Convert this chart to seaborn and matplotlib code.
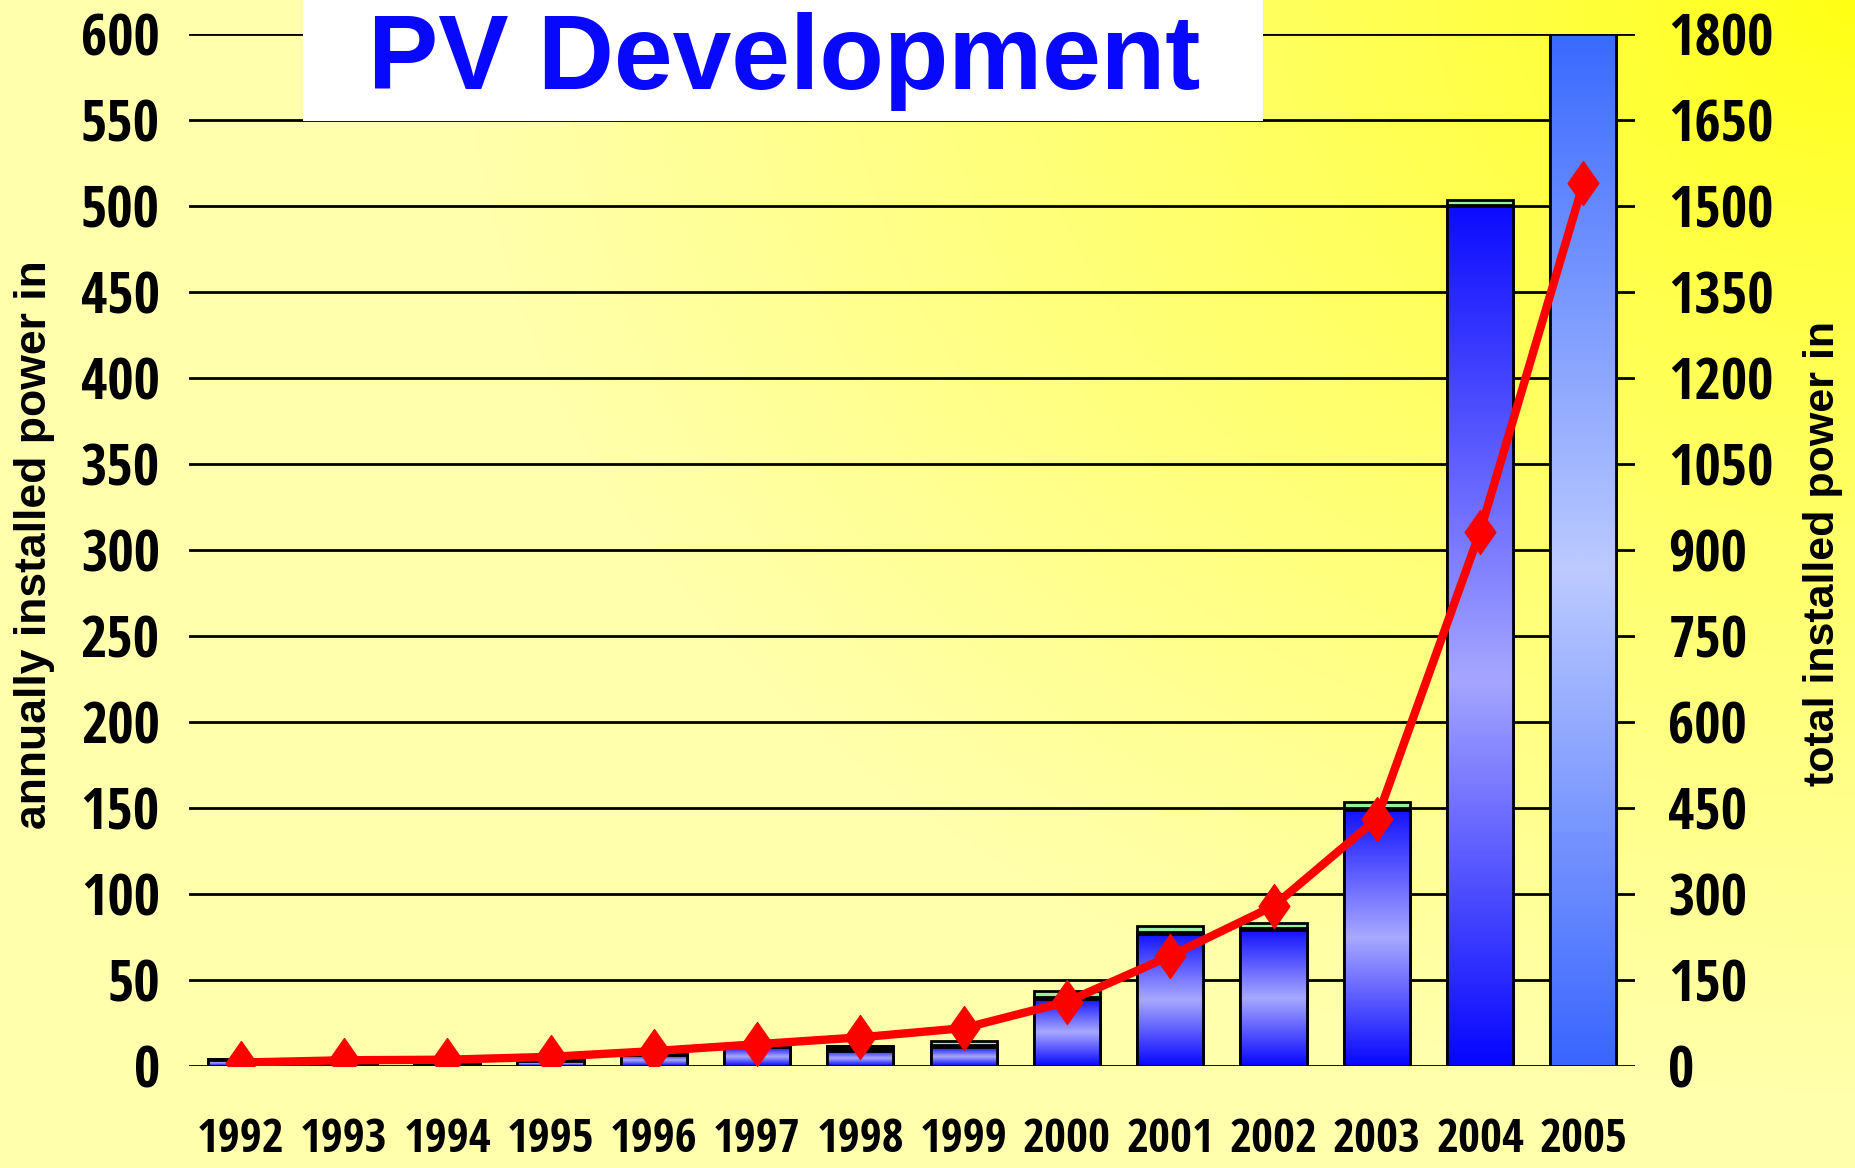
import numpy as np
import pandas as pd
import matplotlib
matplotlib.use("Agg")
import matplotlib.pyplot as plt
import seaborn as sns
from matplotlib.colors import LinearSegmentedColormap
from matplotlib.patches import Rectangle

# ---------------- data ----------------
years = ["1992", "1993", "1994", "1995", "1996", "1997", "1998",
         "1999", "2000", "2001", "2002", "2003", "2004", "2005"]
annual_main = [3.5, 1.0, 1.0, 3.0, 6.5, 11, 9, 11, 39, 77, 79, 149, 500, 600]
annual_other = [0.5, 0.3, 0.3, 0.5, 0.5, 0.5, 2.5, 1, 1, 1, 1, 1, 0.5, 0]
annual_green = [0, 0, 0, 0, 0, 0, 0, 2.5, 3.5, 3.5, 3, 3.5, 3, 0]
total_installed = [6, 10, 11, 16, 26, 38, 50, 66, 112, 192, 279, 431, 932, 1540]
left_ticks = list(range(0, 601, 50))
right_ticks = list(range(0, 1801, 150))
title_text = "PV Development"
left_label = "annually installed power in"
right_label = "total installed power in"

df = pd.DataFrame({"year": years, "main": annual_main,
                   "other": annual_other, "green": annual_green})
df["lvl1"] = df["main"] + df["other"]
df["lvl2"] = df["lvl1"] + df["green"]

# ---------------- style ----------------
sns.set_theme(style="white")
narrow = ["Open Sans Condensed", "Liberation Sans", "DejaVu Sans"]
wide = ["Liberation Sans", "DejaVu Sans"]
plt.rcParams["font.family"] = narrow
plt.rcParams["font.weight"] = "bold"
plt.rcParams["text.color"] = "black"
plt.rcParams["xtick.color"] = "black"
plt.rcParams["ytick.color"] = "black"

W, H = 1856, 1168
fig = plt.figure(figsize=(W / 100, H / 100), dpi=100)

# background gradient (bright yellow at top-right, pale yellow elsewhere)
bg = fig.add_axes([0, 0, 1, 1], zorder=-10)
gy, gx = np.mgrid[0:1:300j, 0:1:480j]
d = np.sqrt((1 - gx) ** 2 + (gy * 0.8) ** 2)
t = np.clip(d / 0.75, 0, 1) ** 0.8
img = np.ones((300, 480, 3))
img[..., 2] = (16 + (172 - 16) * t) / 255.0
bg.imshow(img, extent=[0, 1, 0, 1], aspect="auto", origin="upper")
bg.set_xlim(0, 1); bg.set_ylim(0, 1)
bg.axis("off")

ax = fig.add_axes([189 / W, 1 - 1066 / H, (1635 - 189) / W, (1066 - 34) / H])
ax.set_facecolor("none")

bar_kw = dict(width=0.64, edgecolor="black", linewidth=2.0, saturation=1, ax=ax)
sns.barplot(data=df, x="year", y="lvl2", color="#98F0A0", zorder=1, **bar_kw)
sns.barplot(data=df, x="year", y="lvl1", color="black", zorder=1, **bar_kw)
sns.barplot(data=df, x="year", y="main", color="#2020FF", zorder=3, **bar_kw)

# vertical gradients inside the main bars (value 0 = bar bottom, 1 = bar top)
cm_blue = LinearSegmentedColormap.from_list(
    "b", [(0, "#0606FF"), (0.5, "#A8A8FF"), (1, "#1212FF")])
cm_2004 = LinearSegmentedColormap.from_list(
    "d", [(0, "#0606FF"), (0.45, "#A6A6FF"), (1, "#0C0CFF")])
cm_2005 = LinearSegmentedColormap.from_list(
    "c", [(0, "#3A66FF"), (0.48, "#BCCAFF"), (1, "#3A6AFF")])
grad = np.linspace(1, 0, 256).reshape(-1, 1)
for i, patch in enumerate(ax.containers[-1].patches):
    x0, y0 = patch.get_xy()
    w, h = patch.get_width(), patch.get_height()
    if i == len(years) - 1:
        cm = cm_2005
    elif i == len(years) - 2:
        cm = cm_2004
    else:
        cm = cm_blue
    im = ax.imshow(grad, cmap=cm, vmin=0, vmax=1, aspect="auto",
                   extent=(x0, x0 + w, y0, y0 + h),
                   zorder=2, interpolation="bilinear")
    im.set_clip_path(patch)
    patch.set_facecolor("none")
    patch.set_zorder(3)

ax.set_xlim(-0.5, len(years) - 0.5)
ax.set_ylim(0, 600)
ax.set_yticks(left_ticks)
ax.set_yticklabels([str(v) for v in left_ticks])
ax.grid(axis="y", color="black", linewidth=2.0)
ax.grid(axis="x", visible=False)
ax.set_axisbelow(True)
for s in ax.spines.values():
    s.set_visible(False)
ax.tick_params(axis="both", length=0, labelcolor="black")
ax.tick_params(axis="y", labelsize=41, pad=21)
ax.tick_params(axis="x", labelsize=34, pad=36)
ax.set_xlabel("")
ax.set_ylabel("")

# total installed line
ax2 = ax.twinx()
diamond = [(0, 1), (0.7, 0), (0, -1), (-0.7, 0), (0, 1)]
sns.lineplot(x=np.arange(len(years)), y=total_installed, ax=ax2,
             color="#FF0000", linewidth=6, marker=diamond, markersize=32,
             markeredgecolor="#FF0000", markerfacecolor="#FF0000")
ax2.set_ylim(0, 1800)
ax2.set_yticks(right_ticks)
ax2.set_yticklabels([str(v) for v in right_ticks])
ax2.set_xlim(-0.5, len(years) - 0.5)
for s in ax2.spines.values():
    s.set_visible(False)
ax2.tick_params(axis="y", length=0, labelsize=41, pad=24, labelcolor="black")
ax2.set_xlabel("")
ax2.set_ylabel("")
ax2.grid(False)

# axis titles
fig.text(35 / W, 1 - 545 / H, left_label, rotation=90, ha="center", va="center",
         fontsize=32, fontweight="bold", family=wide, color="black")
fig.text(1823 / W, 1 - 553 / H, right_label, rotation=90, ha="center", va="center",
         fontsize=31, fontweight="bold", family=wide, color="black")

# title box
fig.add_artist(Rectangle((303 / W, 1 - 121 / H), (1263 - 303) / W, 121 / H,
                         transform=fig.transFigure, facecolor="white",
                         edgecolor="none", zorder=5))
fig.text(784 / W, 1 - 89 / H, title_text, ha="center", va="baseline",
         fontsize=76, fontweight="bold", color="#0808FF", zorder=6, family=wide)

fig.savefig("out.png", dpi=100)
